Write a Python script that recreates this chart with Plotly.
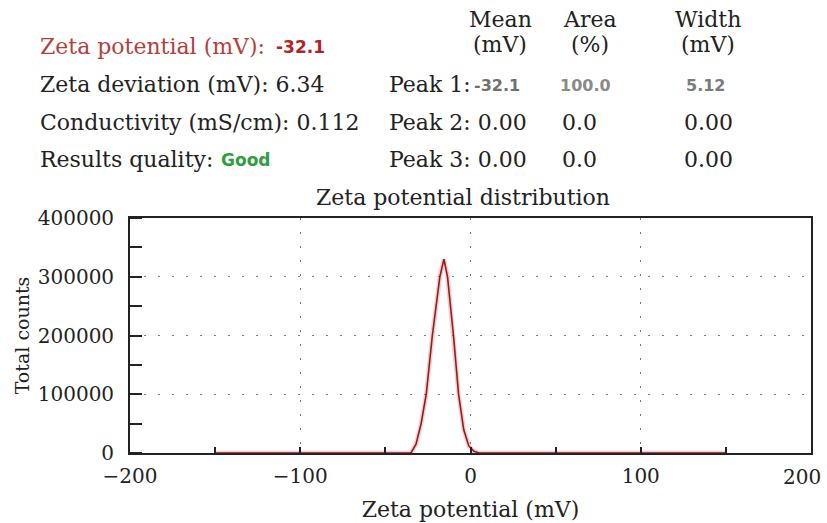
import plotly.graph_objects as go

# ---- data ----
zeta_mv = [-150, -35, -32, -29, -26, -22.4, -18, -15.6, -13.5, -10, -7, -4, -1, 2, 5, 150]
total_counts = [0, 0, 15000, 50000, 100000, 200000, 300000, 330000, 300000, 200000, 100000, 40000, 12000, 3000, 0, 0]

x_ticks = [-200, -100, 0, 100, 200]
x_tick_text = ["\u2212200", "\u2212100", "0", "100", "200"]
y_ticks = [0, 100000, 200000, 300000, 400000]

summary_labels = ["Zeta potential (mV):", "Zeta deviation (mV):", "Conductivity (mS/cm):", "Results quality:"]
summary_values = ["-32.1", "6.34", "0.112", "Good"]
peak_names = ["Peak 1:", "Peak 2:", "Peak 3:"]
peak_mean = ["-32.1", "0.00", "0.00"]
peak_area = ["100.0", "0.0", "0.0"]
peak_width = ["5.12", "0.00", "0.00"]
col_headers = [("Mean", "(mV)"), ("Area", "(%)"), ("Width", "(mV)")]

W, H = 827, 523
L, R, T, B = 130, 811, 218, 453

def px(x):
    return (x - L) / (R - L)

def py(y):
    return (B - y) / (B - T)

SERIF = "DejaVu Serif"
SANS = "DejaVu Sans"
FS = 22

fig = go.Figure()
fig.add_trace(go.Scatter(x=zeta_mv, y=total_counts, mode="lines",
                         line=dict(color="rgba(225,90,90,0.3)", width=4.5),
                         hoverinfo="skip", showlegend=False))
fig.add_trace(go.Scatter(x=zeta_mv, y=total_counts, mode="lines",
                         line=dict(color="#8e1f1f", width=1.6),
                         showlegend=False))

ann = []
def add(text, x, y, xanchor="left", size=FS, color="#222", family=SERIF, bold=False):
    if bold:
        text = f"<b>{text}</b>"
    ann.append(dict(text=text, x=px(x), y=py(y), xref="paper", yref="paper",
                    xanchor=xanchor, yanchor="middle", showarrow=False,
                    font=dict(family=family, size=size, color=color)))

row_y = [46, 84, 122, 159]
# summary block
add(summary_labels[0], 38, row_y[0], color="#b4403c")
add(summary_values[0], 274, row_y[0] + 1, family=SANS, size=17, color="#b02525", bold=True)
add(summary_labels[1] + " " + summary_values[1], 38, row_y[1])
add(summary_labels[2] + " " + summary_values[2], 38, row_y[2])
add(summary_labels[3], 38, row_y[3])
add(summary_values[3], 219, row_y[3] + 1, family=SANS, size=17, color="#2f9e3f", bold=True)

# column headers
hdr_x = [500, 590, 708]
for (h1, h2), cx in zip(col_headers, hdr_x):
    add(h1, cx, 20, xanchor="center")
    add(h2, cx, 44, xanchor="center")

# peak rows
area_x = [585, 579, 579]
width_x = [705, 708, 708]
for i in range(3):
    yy = row_y[i + 1]
    if i == 0:
        add(peak_names[i], 387, yy)
        add(peak_mean[i], 472, yy + 1, family=SANS, size=16, color="#707070", bold=True)
        add(peak_area[i], area_x[i], yy + 1, xanchor="center", family=SANS, size=16, color="#8a8a8a", bold=True)
        add(peak_width[i], width_x[i], yy + 1, xanchor="center", family=SANS, size=16, color="#7c7c7c", bold=True)
    else:
        add(peak_names[i] + " " + peak_mean[i], 387, yy)
        add(peak_area[i], area_x[i], yy, xanchor="center")
        add(peak_width[i], width_x[i], yy, xanchor="center")

# chart title
add("Zeta potential distribution", 463, 197, xanchor="center")

# last x tick label, nudged inward so it stays inside the page (as in the reference)
ann.append(dict(text=x_tick_text[-1], x=x_ticks[-1], xref="x", y=0, yref="paper",
                xanchor="right", yanchor="top", yshift=-10, xshift=12, showarrow=False,
                font=dict(family=SERIF, size=20, color="#222")))
shown_tick_text = x_tick_text[:-1] + [""]

grid = dict(showgrid=True, gridcolor="#7a7a7a", gridwidth=1, griddash="2px,12px")

fig.update_layout(
    width=W, height=H,
    margin=dict(l=L, r=W - R, t=T, b=H - B, pad=0),
    paper_bgcolor="white", plot_bgcolor="white",
    annotations=ann,
    font=dict(family=SERIF, size=20, color="#222"),
    xaxis=dict(range=[-200, 200], tickvals=x_ticks, ticktext=shown_tick_text,
               ticks="inside", ticklen=6, tickwidth=1.5, tickcolor="#222",
               minor=dict(dtick=50, ticks="inside", ticklen=6, tickwidth=1.5, tickcolor="#222"),
               showline=True, linecolor="#222", linewidth=1.8, mirror=True,
               zeroline=False, ticklabelstandoff=4, automargin=False,
               tickfont=dict(family=SERIF, size=20, color="#222"),
               title=dict(text="Zeta potential (mV)", font=dict(family=SERIF, size=FS, color="#222"),
                          standoff=15),
               **grid),
    yaxis=dict(range=[0, 400000], tickvals=y_ticks, tickformat="d", ticks="",
               minor=dict(dtick=50000, ticks="inside", ticklen=12, tickwidth=1.5, tickcolor="#222"),
               showline=True, linecolor="#222", linewidth=1.8, mirror=True,
               zeroline=False, ticklabelstandoff=10, automargin=False,
               ticklabeloverflow="allow",
               tickfont=dict(family=SERIF, size=20, color="#222"),
               title=dict(text="Total counts", font=dict(family=SERIF, size=19, color="#222"),
                          standoff=3),
               **grid),
)

fig.write_html("out.html", config={"displayModeBar": False},
               post_script="document.body.style.margin='0';document.body.style.overflow='hidden';")
